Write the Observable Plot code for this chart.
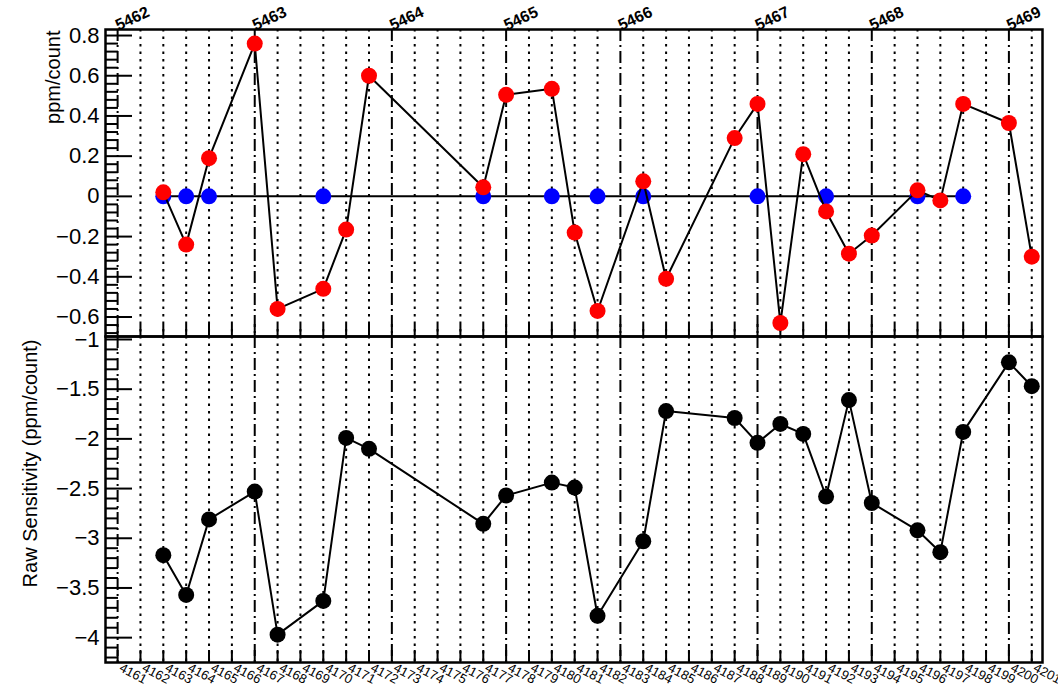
<!DOCTYPE html>
<html><head><meta charset="utf-8">
<script src="https://cdn.jsdelivr.net/npm/d3@7"></script>
<script src="https://cdn.jsdelivr.net/npm/@observablehq/plot@0.6"></script>
<style>
body{margin:0;background:#fff;}
#chart{position:relative;width:1058px;height:687px;overflow:hidden;background:#fff;}
#top,#bottom{position:absolute;left:0;}
#top{top:0;} #bottom{top:336px;}
svg{overflow:visible;}
</style></head><body><div id="chart"><div id="top"></div><div id="bottom"></div></div>
<script>
// ---- data ----
const runs = [4162,4163,4164,4166,4167,4169,4170,4171,4176,4177,4179,4180,4181,4183,4184,4187,4188,4189,4190,4191,4192,4193,4195,4196,4197,4199,4200];
const ppm = [0.02,-0.24,0.19,0.76,-0.56,-0.46,-0.165,0.60,0.045,0.505,0.535,-0.18,-0.57,0.075,-0.41,0.29,0.46,-0.63,0.21,-0.075,-0.285,-0.195,0.03,-0.02,0.46,0.365,-0.30];
const rawSens = [-3.17,-3.57,-2.81,-2.53,-3.97,-3.63,-1.99,-2.10,-2.855,-2.57,-2.44,-2.49,-3.78,-3.03,-1.72,-1.79,-2.04,-1.85,-1.95,-2.58,-1.61,-2.645,-2.92,-3.14,-1.93,-1.23,-1.47];
const blueRuns = [4162,4163,4164,4169,4176,4179,4181,4183,4188,4191,4195,4197];
const blueVals = [0,0,0,0,0,0,0,0,0,0,0,0];
const boundaryRuns = [4160,4166,4172,4177,4182,4188,4193,4199];
const boundaryLabels = ["5462","5463","5464","5465","5466","5467","5468","5469"];
const topTicks = [-0.6,-0.4,-0.2,0,0.2,0.4,0.6,0.8];
const bottomTicks = [-1,-1.5,-2,-2.5,-3,-3.5,-4];
const runLabels = d3.range(4161, 4202);
const gridRuns = d3.range(4160, 4201);

// ---- derived tables ----
const red = runs.map((r,i)=>({run:r, v:ppm[i]}));
const blk = runs.map((r,i)=>({run:r, v:rawSens[i]}));
const blue = blueRuns.map((r,i)=>({run:r, v:blueVals[i]}));
const bounds = boundaryRuns.map((r,i)=>({run:r, label:boundaryLabels[i]}));
const dotted = gridRuns.filter(r => !boundaryRuns.includes(r));
const topMinor = d3.range(-17, 21).filter(i => i % 5 !== 0).map(i => +(i*0.04).toFixed(2));
const botMinor = d3.range(11, 43).filter(i => i % 5 !== 0).map(i => +(-i*0.1).toFixed(1));

const W = 1058, ML = 105, MR = 16, FW = W - ML - MR;
const xDomain = [4159.47, 4200.47];
const font = "'Liberation Sans', Arial, Helvetica, sans-serif";
const fmt = d => d === 0 ? "0" : String(d).replace("-", "\u2212");

function gridMarks(FH){
  return [
    Plot.ruleX(dotted, {x: d=>d, stroke:"black", strokeWidth:2, strokeDasharray:"2.5,5"}),
    Plot.ruleX(boundaryRuns, {x: d=>d, stroke:"black", strokeWidth:2, strokeDasharray:"12,4,2,4"}),
    Plot.tickX(gridRuns, {x: d=>d, insetTop: FH-12, stroke:"black", strokeWidth:2}),
  ];
}

// ---- top panel ----
const TH = 337, TMT = 29, TMB = 1, TFH = TH - TMT - TMB;
const topPlot = Plot.plot({
  width: W, height: TH, marginLeft: ML, marginRight: MR, marginTop: TMT, marginBottom: TMB,
  style: {fontFamily: font, background: "transparent", overflow: "visible"},
  x: {domain: xDomain, axis: null},
  y: {domain: [-0.697, 0.83], axis: null},
  marks: [
    ...gridMarks(TFH),
    Plot.tickY(topTicks, {y: d=>d, insetRight: FW-27, stroke:"black", strokeWidth:2}),
    Plot.tickY(topMinor, {y: d=>d, insetRight: FW-13, stroke:"black", strokeWidth:2}),
    Plot.axisY({ticks: topTicks, tickSize: 0, tickPadding: 6, fontSize: 22, tickFormat: fmt, label: null}),
    Plot.text(bounds, {x:"run", text:"label", frameAnchor:"top", rotate:-25, textAnchor:"start", dx:-4, dy:-9, fontWeight:"bold", fontSize:16}),
    Plot.line(blue, {x:"run", y:"v", stroke:"black", strokeWidth:2}),
    Plot.dot(blue, {x:"run", y:"v", r:8, fill:"#0000ff"}),
    Plot.line(red, {x:"run", y:"v", stroke:"black", strokeWidth:2}),
    Plot.dot(red, {x:"run", y:"v", r:8, fill:"#ff0000"}),
    Plot.frame({stroke:"black", strokeWidth:2.5}),
    Plot.text(["ppm/count"], {frameAnchor:"top-left", rotate:-90, textAnchor:"end", dx:-60, dy:1, fontSize:20})
  ]
});
document.getElementById("top").append(topPlot);

// ---- bottom panel ----
const BH = 351, BMT = 0, BMB = 25, BFH = BH - BMT - BMB;
const botPlot = Plot.plot({
  width: W, height: BH, marginLeft: ML, marginRight: MR, marginTop: BMT, marginBottom: BMB,
  style: {fontFamily: font, background: "transparent", overflow: "visible"},
  x: {domain: xDomain, axis: null},
  y: {domain: [-4.25, -0.97], axis: null},
  marks: [
    ...gridMarks(BFH),
    Plot.tickY(bottomTicks, {y: d=>d, insetRight: FW-27, stroke:"black", strokeWidth:2}),
    Plot.tickY(botMinor, {y: d=>d, insetRight: FW-13, stroke:"black", strokeWidth:2}),
    Plot.axisY({ticks: bottomTicks, tickSize: 0, tickPadding: 6, fontSize: 22, tickFormat: fmt, label: null}),
    Plot.line(blk, {x:"run", y:"v", stroke:"black", strokeWidth:2}),
    Plot.dot(blk, {x:"run", y:"v", r:8, fill:"black"}),
    Plot.frame({stroke:"black", strokeWidth:2.5}),
    Plot.text(runLabels, {x: d=>d, text: d=>String(d), frameAnchor:"bottom", rotate:28, textAnchor:"start", dx:-22, dy:8, fontSize:13}),
    Plot.text(["Raw Sensitivity (ppm/count)"], {frameAnchor:"top-left", rotate:-90, textAnchor:"end", dx:-83, dy:3, fontSize:20})
  ]
});
document.getElementById("bottom").append(botPlot);
</script>
</body></html>
